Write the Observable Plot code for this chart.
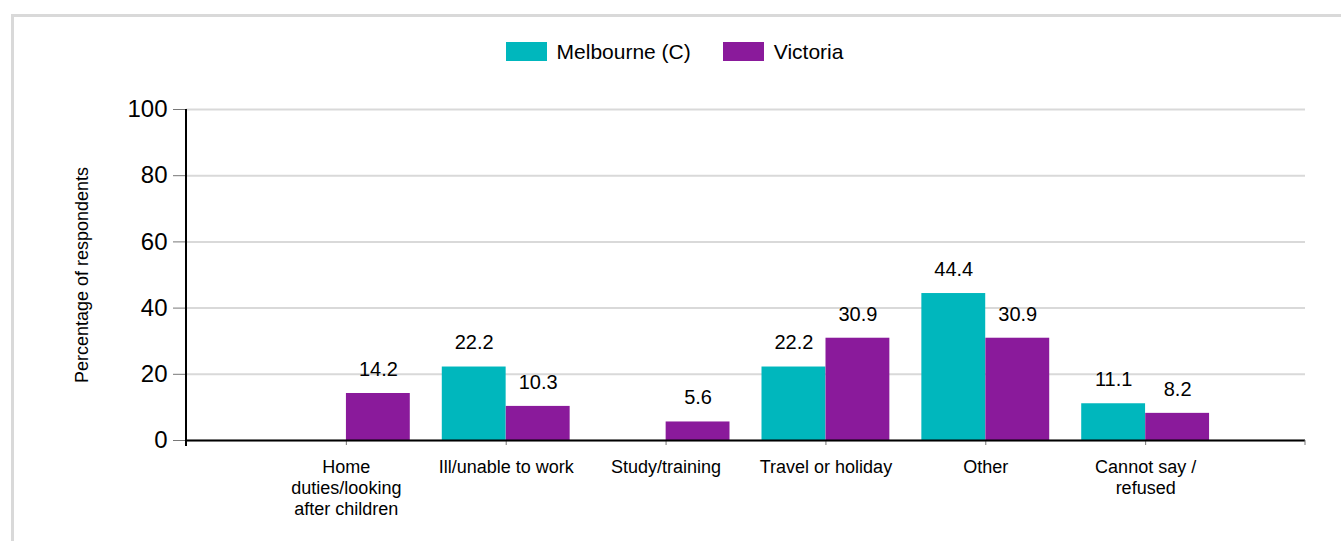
<!DOCTYPE html>
<html>
<head>
<meta charset="utf-8">
<script src="https://cdn.jsdelivr.net/npm/d3@7"></script>
<script src="https://cdn.jsdelivr.net/npm/@observablehq/plot@0.6"></script>
<style>
  html, body { margin: 0; padding: 0; background: #fff; }
  body { font-family: "Liberation Sans", Arial, sans-serif; }
  #wrap { position: relative; width: 1341px; height: 541px; overflow: hidden; }
  #border { position: absolute; left: 11px; top: 14px; width: 1340px; height: 560px; border: 3px solid #d9d9d9; box-sizing: border-box; }
  #legend { position: relative; height: 80px; box-sizing: border-box; padding-top: 23px; padding-left: 8px;
            display: flex; justify-content: center; align-items: center; font-size: 21px; color: #000; }
  .item { display: flex; align-items: center; margin: 0 16px; }
  .sw { width: 41px; height: 19px; margin-right: 10px; }
  #chart { position: relative; }
</style>
</head>
<body>
<div id="wrap">
  <div id="border"></div>
  <div id="legend"></div>
  <div id="chart"></div>
</div>
<script>
const categories = ["Home duties/looking after children", "Ill/unable to work", "Study/training", "Travel or holiday", "Other", "Cannot say / refused"];
const tickLabels = ["Home\nduties/looking\nafter children", "Ill/unable to work", "Study/training", "Travel or holiday", "Other", "Cannot say /\nrefused"];
const seriesNames = ["Melbourne (C)", "Victoria"];
const melbourne = [null, 22.2, null, 22.2, 44.4, 11.1];
const victoria = [14.2, 10.3, 5.6, 30.9, 30.9, 8.2];
const colors = ["#00b7bd", "#8a1a9b"];
const yTicks = [0, 20, 40, 60, 80, 100];
const yLabel = "Percentage of respondents";

const table = categories.flatMap((c, i) => [
  {category: c, series: seriesNames[0], value: melbourne[i]},
  {category: c, series: seriesNames[1], value: victoria[i]}
]).filter(d => d.value != null);

// legend
const legend = document.getElementById("legend");
seriesNames.forEach((s, i) => {
  const it = document.createElement("div");
  it.className = "item";
  const sw = document.createElement("div");
  sw.className = "sw";
  sw.style.background = colors[i];
  const t = document.createElement("span");
  t.textContent = s;
  it.appendChild(sw); it.appendChild(t);
  legend.appendChild(it);
});

const mel = table.filter(d => d.series === seriesNames[0]);
const vic = table.filter(d => d.series === seriesNames[1]);

const edges = (index, scales, values, dims) => {
  const g = d3.create("svg:g");
  const x0 = dims.marginLeft, x1 = dims.width - dims.marginRight, yb = dims.height - dims.marginBottom;
  g.append("line").attr("x1", x0).attr("x2", x0).attr("y1", dims.marginTop).attr("y2", yb + 6)
    .attr("stroke", "#000").attr("stroke-width", 2);
  g.append("line").attr("x1", x1).attr("x2", x1).attr("y1", yb).attr("y2", yb + 5)
    .attr("stroke", "#777").attr("stroke-width", 1);
  return g.node();
};

const chart = Plot.plot({
  width: 1341,
  height: 461,
  marginTop: 29,
  marginBottom: 101,
  marginLeft: 186,
  marginRight: 36,
  style: {fontFamily: "'Liberation Sans', Arial, sans-serif", color: "#000", background: "transparent"},
  x: {type: "band", domain: categories, paddingInner: 0, paddingOuter: 0.5, round: false},
  y: {domain: [0, 100]},
  color: {domain: seriesNames, range: colors},
  marks: [
    Plot.gridY(yTicks, {stroke: "#d9d9d9", strokeWidth: 2, strokeOpacity: 1}),
    Plot.barY(mel, {x: "category", y: "value", fill: "series", insetLeft: 16, insetRight: 80}),
    Plot.barY(vic, {x: "category", y: "value", fill: "series", insetLeft: 80, insetRight: 16}),
    Plot.text(mel, {x: "category", y: "value", text: d => d.value.toFixed(1), dx: -32, dy: -24, fontSize: 20, fill: "#000"}),
    Plot.text(vic, {x: "category", y: "value", text: d => d.value.toFixed(1), dx: 32, dy: -24, fontSize: 20, fill: "#000"}),
    Plot.axisY({ticks: yTicks, tickSize: 13, tickPadding: 6, fontSize: 24, label: null, stroke: "#777", fill: "#000"}),
    Plot.axisX({tickSize: 5, tickPadding: 12, fontSize: 18, lineHeight: 1.18, label: null, stroke: "#777", fill: "#000",
      tickFormat: d => tickLabels[categories.indexOf(d)]}),
    Plot.ruleY([0], {stroke: "#000", strokeWidth: 2}),
    edges,
    Plot.text([yLabel], {text: d => d, frameAnchor: "left", textAnchor: "middle", lineAnchor: "middle", dx: -104, rotate: -90, fontSize: 18, fill: "#000"})
  ]
});
document.getElementById("chart").appendChild(chart);
</script>
</body>
</html>
